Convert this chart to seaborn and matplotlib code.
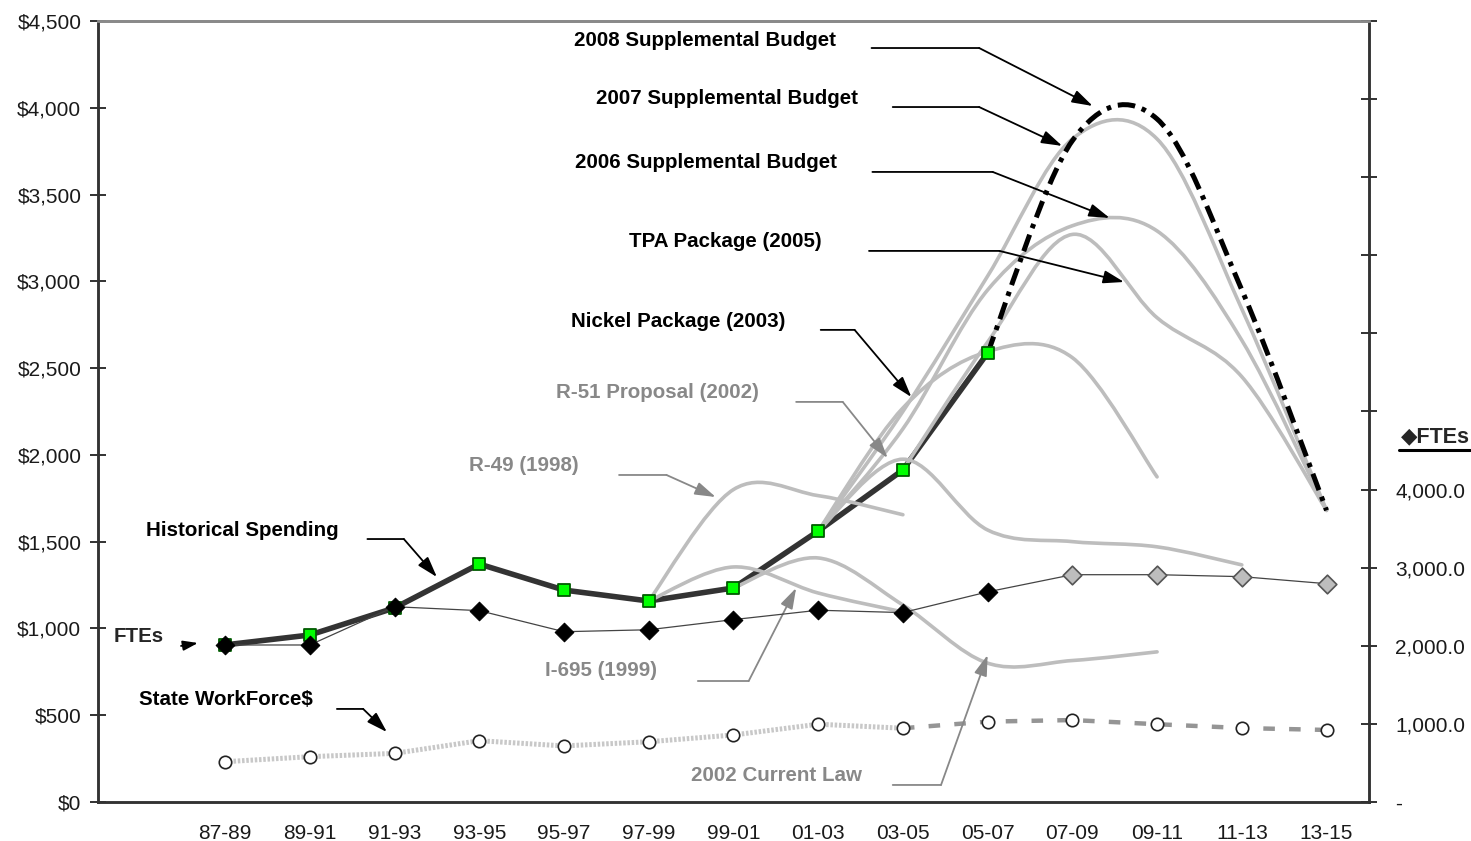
import numpy as np
import matplotlib.pyplot as plt
import seaborn as sns
from matplotlib.path import Path
from matplotlib.patches import PathPatch
from matplotlib.lines import Line2D

cats = ['87-89', '89-91', '91-93', '93-95', '95-97', '97-99', '99-01',
        '01-03', '03-05', '05-07', '07-09', '09-11', '11-13', '13-15']

# historical spending ($ millions), 87-89 .. 05-07
hist_spend = [905, 962, 1118, 1371, 1221, 1158, 1233, 1561, 1913, 2587]

# FTEs (right axis); projected from 07-09 on
ftes = [2010, 2010, 2500, 2450, 2180, 2205, 2335, 2455, 2425, 2690,
        2910, 2910, 2885, 2795]
fte_proj_from = '07-09'

# state workforce $; projected from 03-05 on
workforce = [232, 261, 280, 353, 323, 347, 386, 448, 425, 463, 472, 448, 426, 415]
wf_proj_from = '03-05'

# spending plans: first biennium and values
r49_start, r49 = '97-99', [1158, 1800, 1765, 1655]
i695_start, i695 = '97-99', [1158, 1354, 1204, 1095]
law2002_start, law2002 = '99-01', [1233, 1406, 1135, 800, 815, 865]
r51_start, r51 = '01-03', [1561, 1975, 1567, 1500, 1470, 1366]
nickel_start, nickel = '01-03', [1561, 2270, 2595, 2560, 1873]
tpa_start, tpa = '03-05', [1913, 2650, 3270, 2790, 2450, 1680]
supp2006_start, supp2006 = '01-03', [1561, 2150, 2950, 3320, 3290, 2660, 1680]
supp2007_start, supp2007 = '01-03', [1561, 2250, 3030, 3820, 3820, 2840, 1680]
supp2008_start, supp2008 = '05-07', [2587, 3810, 3935, 2950, 1680]

sns.set_style('white')
plt.rcParams['font.family'] = ['Liberation Sans', 'DejaVu Sans']

x = np.arange(len(cats))

fig = plt.figure(figsize=(14.71, 8.41), dpi=100)
ax = fig.add_axes([0.0666, 0.0464, 0.864, 0.9287])
ax2 = ax.twinx()


def smooth_path(start, vals):
    # excel-style smoothed line: cubic bezier through the points
    i0 = cats.index(start)
    pts = np.column_stack([np.arange(i0, i0 + len(vals)), vals]).astype(float)
    ext = np.vstack([pts[0], pts, pts[-1]])
    verts = [pts[0]]
    codes = [Path.MOVETO]
    for k in range(len(pts) - 1):
        p0, p1, p2, p3 = ext[k], ext[k + 1], ext[k + 2], ext[k + 3]
        verts += [p1 + (p2 - p0) / 6, p2 - (p3 - p1) / 6, p2]
        codes += [Path.CURVE4] * 3
    return Path(verts, codes)


# historical line
sns.lineplot(x=x[:len(hist_spend)], y=hist_spend, ax=ax, color='#333333', lw=4.0, zorder=2)

gray = '#bdbdbd'
for start, vals in [(r49_start, r49), (i695_start, i695), (law2002_start, law2002),
                    (r51_start, r51), (nickel_start, nickel), (tpa_start, tpa),
                    (supp2006_start, supp2006), (supp2007_start, supp2007)]:
    ax.add_patch(PathPatch(smooth_path(start, vals), fill=False, ec=gray, lw=2.6,
                           capstyle='round', zorder=3))

ax.add_patch(PathPatch(smooth_path(supp2008_start, supp2008), fill=False, ec='black',
                       lw=3.6, ls=(0, (3.5, 1.4, 0.9, 1.4)), capstyle='butt', zorder=4))

sns.scatterplot(x=x[:len(hist_spend)], y=hist_spend, ax=ax, marker='s', s=75,
                color='#00ff00', edgecolor='#005a00', linewidth=1.3, zorder=6)

# state workforce
k = cats.index(wf_proj_from)
sns.lineplot(x=x[:k + 1], y=workforce[:k + 1], ax=ax, color='#c8c8c8', lw=3.6,
             linestyle=(0, (0.5, 0.35)), zorder=3)
sns.lineplot(x=x[k:], y=workforce[k:], ax=ax, color='#959595', lw=3.2,
             linestyle=(0, (2.6, 3.2)), zorder=3)
sns.scatterplot(x=x, y=workforce, ax=ax, marker='o', s=80, color='white',
                edgecolor='#222222', linewidth=1.2, zorder=6)

# FTEs on right axis
j = cats.index(fte_proj_from)
sns.lineplot(x=x, y=ftes, ax=ax2, color='#444444', lw=0.9, zorder=2)
sns.scatterplot(x=x[:j], y=ftes[:j], ax=ax2, marker='D', s=90, color='black',
                edgecolor='black', zorder=5)
sns.scatterplot(x=x[j:], y=ftes[j:], ax=ax2, marker='D', s=90, color='#bdbdbd',
                edgecolor='#555555', linewidth=1.2, zorder=5)

# axes
ax.set_xlim(-1.5, 13.5)
ax.set_ylim(0, 4500)
ax2.set_ylim(0, 10000)
ax.set_xlabel('')
ax.set_ylabel('')
ax2.set_ylabel('')

ax.set_xticks(np.arange(-0.5, 13, 1))
ax.set_xticklabels([])
ax.set_xticks(x, cats, minor=True)
ax.tick_params(axis='x', which='major', direction='inout', length=14, width=1.3, color='#222222')
ax.tick_params(axis='x', which='minor', length=0, pad=16, labelsize=15, labelcolor='#1a1a1a')

yt = np.arange(0, 4501, 500)
ax.set_yticks(yt, [f'${v:,.0f}' for v in yt])
ax.tick_params(axis='y', direction='inout', length=12, width=1.3, color='#222222',
               pad=6, labelsize=15, labelcolor='#1a1a1a')

rt = np.arange(0, 10001, 1000)
rlabels = ['-'] + [f'{v:,.1f}' if v <= 4000 else '' for v in rt[1:]]
ax2.set_yticks(rt, rlabels)
ax2.tick_params(axis='y', direction='inout', length=12, width=1.3, color='#222222',
                pad=13, labelsize=15, labelcolor='#1a1a1a')

for a in (ax, ax2):
    for side in ('left', 'bottom', 'right'):
        a.spines[side].set_color('#333333')
        a.spines[side].set_linewidth(1.8)
    a.spines['top'].set_color('#8a8a8a')
    a.spines['top'].set_linewidth(2)

# labels with leader arrows (data coords)
notes = [
    ('2008 Supplemental Budget', (5.67, 4390), (7.63, 4344), (8.90, 4344), (10.24, 4010), 'black'),
    ('2007 Supplemental Budget', (5.92, 4056), (7.88, 4004), (8.90, 4004), (9.88, 3780), 'black'),
    ('2006 Supplemental Budget', (5.68, 3682), (7.64, 3630), (9.06, 3630), (10.44, 3365), 'black'),
    ('TPA Package (2005)', (5.90, 3227), (7.60, 3175), (9.14, 3175), (10.61, 2996), 'black'),
    ('Nickel Package (2003)', (5.35, 2771), (7.03, 2720), (7.43, 2720), (8.10, 2333), 'black'),
    ('R-51 Proposal (2002)', (5.10, 2357), (6.74, 2305), (7.29, 2305), (7.82, 1982), '#888888'),
    ('R-49 (1998)', (3.53, 1936), (4.65, 1884), (5.21, 1884), (5.79, 1757), '#888888'),
    ('Historical Spending', (0.20, 1567), (1.68, 1515), (2.11, 1515), (2.50, 1296), 'black'),
    ('State WorkForce$', (0.01, 588), (1.32, 536), (1.63, 536), (1.91, 403), 'black'),
    ('I-695 (1999)', (4.44, 755), (5.58, 697), (6.18, 697), (6.74, 1233), '#888888'),
    ('2002 Current Law', (6.51, 150), (7.88, 98), (8.45, 98), (9.00, 847), '#888888'),
]
for text, pos, start, corner, tip, col in notes:
    ax.text(*pos, text, ha='center', va='center', fontsize=14.8, fontweight='bold', color=col)
    ax.annotate('', xy=corner, xytext=start,
                arrowprops=dict(arrowstyle='-', color=col, lw=1.3, shrinkA=0, shrinkB=0))
    ax.annotate('', xy=tip, xytext=corner,
                arrowprops=dict(arrowstyle='-|>,head_length=0.7,head_width=0.22', color=col,
                                lw=1.3, shrinkA=0, shrinkB=0, mutation_scale=18))

ax.text(-1.02, 956, 'FTEs', ha='center', va='center', fontsize=14.8, fontweight='bold')
ax.annotate('', xy=(-0.32, 916), xytext=(-0.52, 899),
            arrowprops=dict(arrowstyle='-|>,head_length=0.6,head_width=0.2', color='black',
                            lw=1.3, shrinkA=0, shrinkB=0, mutation_scale=15))

fig.text(0.9755, 0.4804, '\u25c6FTEs', ha='center', va='center', fontsize=15.5, fontweight='bold')
fig.add_artist(Line2D([0.951, 0.999], [0.4650, 0.4650], transform=fig.transFigure,
                      color='black', lw=2.2))

fig.savefig('out.png', dpi=100)
